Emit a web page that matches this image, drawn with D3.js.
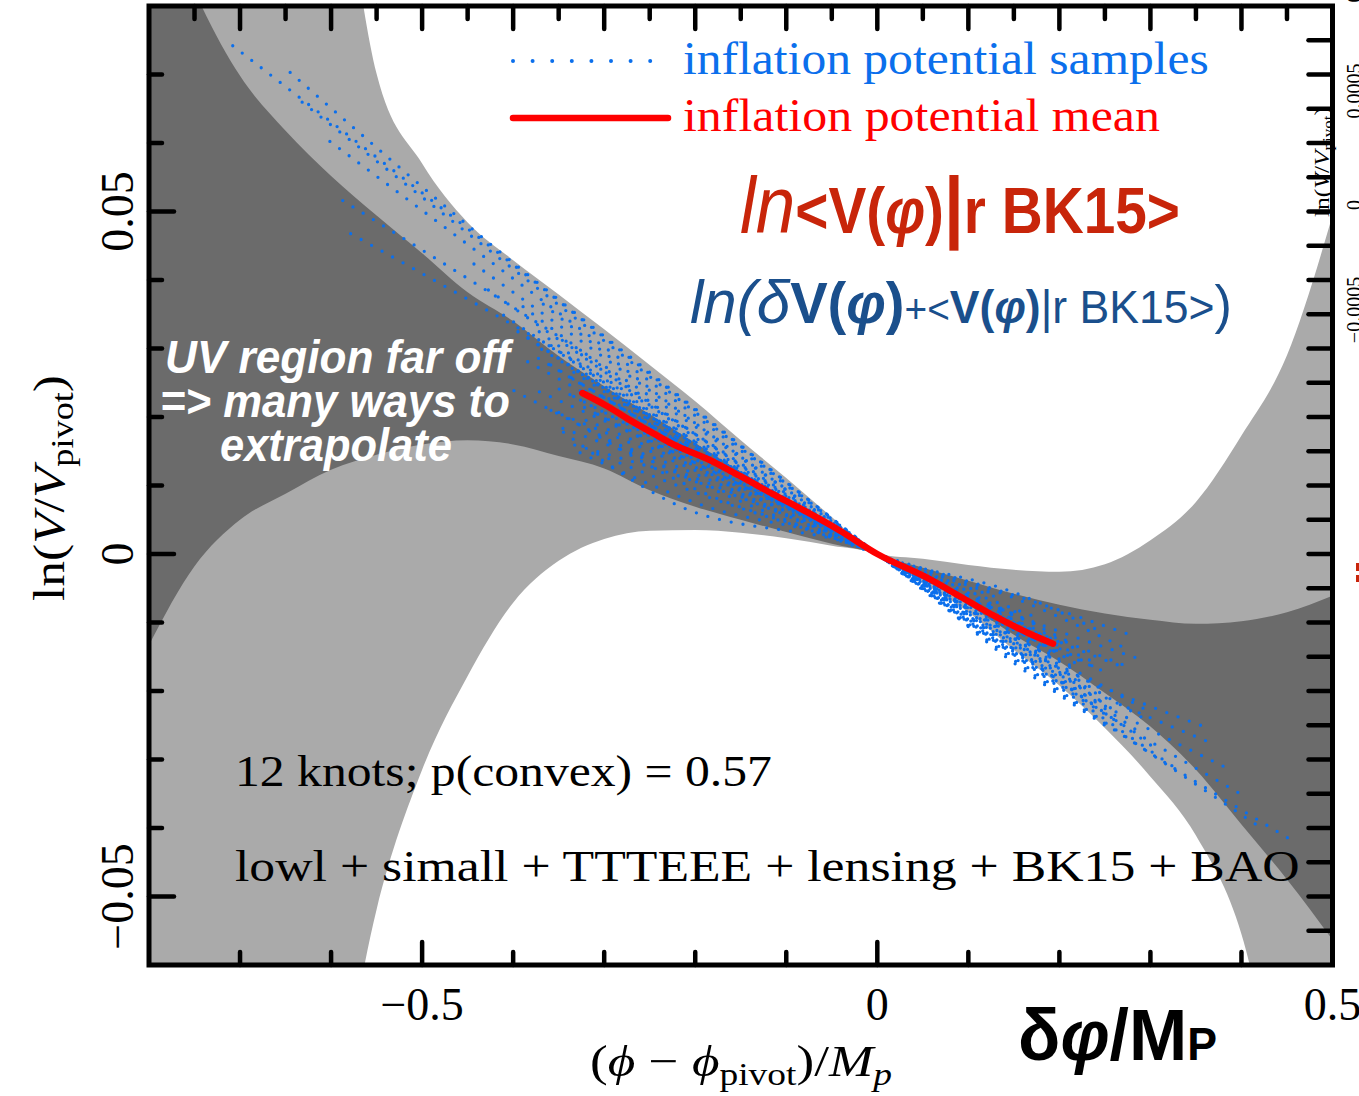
<!DOCTYPE html>
<html>
<head>
<meta charset="utf-8">
<script src="https://cdn.jsdelivr.net/npm/d3@7"></script>
<style>
  body { margin: 0; background: #fff; }
  svg { display: block; }
</style>
</head>
<body>
<svg id="chart" width="1359" height="1096"></svg>
<script>
// ---------------- data ----------------
// field offset grid for the credible bands
const bandPhi = [-0.80, -0.75, -0.70, -0.65, -0.60, -0.55, -0.50, -0.45, -0.40, -0.35, -0.30, -0.25, -0.20,
                 -0.15, -0.10, -0.05, 0.00, 0.05, 0.10, 0.15, 0.20, 0.25, 0.30, 0.35, 0.40, 0.45, 0.50];
// outer (light) band
const outerUpper = [0.23, 0.20, 0.17, 0.14, 0.11, 0.0701, 0.0570, 0.0484, 0.0429, 0.0379, 0.0328, 0.0276, 0.0223,
                    0.0166, 0.0111, 0.0054, 0, -0.0007, -0.0016, -0.0023, -0.0026, -0.0015, 0.0020, 0.0076, 0.0173, 0.0290, 0.0494];
const outerLower = [-0.20, -0.17, -0.14, -0.11, -0.085, -0.0519, -0.0315, -0.0178, -0.0071, -0.0010, 0.0022, 0.0034, 0.0035,
                    0.0031, 0.0023, 0.0012, 0, -0.0042, -0.0085, -0.0140, -0.0192, -0.0254, -0.0325, -0.0411, -0.0555, -0.085, -0.11];
// inner (dark) band
const innerUpper = [0.099, 0.0822, 0.0698, 0.0618, 0.0552, 0.0494, 0.0439, 0.0382, 0.0340, 0.0289, 0.0245, 0.0204, 0.0162,
                    0.0120, 0.0079, 0.0039, 0, -0.0020, -0.0039, -0.0058, -0.0074, -0.0087, -0.0096, -0.0102, -0.0098, -0.0085, -0.0061];
const innerLower = [-0.0133, -0.0018, 0.0050, 0.0088, 0.0123, 0.0145, 0.0160, 0.0166, 0.0160, 0.0143, 0.0125, 0.0093, 0.0069,
                    0.0050, 0.0032, 0.0015, 0, -0.0031, -0.0074, -0.0118, -0.0157, -0.0203, -0.0252, -0.0315, -0.0395, -0.0475, -0.0563];

// posterior mean of the potential
const meanPhi = [-0.324, -0.297, -0.275, -0.246, -0.224, -0.187, -0.151, -0.114, -0.077, -0.041, 0,
                 0.055, 0.091, 0.128, 0.165, 0.193];
const meanLnV = [0.0235, 0.0216, 0.0198, 0.0176, 0.0160, 0.0139, 0.0114, 0.0087, 0.0061, 0.0034, 0,
                 -0.0035, -0.0062, -0.0090, -0.0115, -0.0131];

// individual potential samples, knots as [phi, ln V/Vpivot]
const sampleCurves = [
  [[-0.708, 0.0742], [-0.45, 0.0475], [-0.2, 0.0210], [0, 0], [0.15, -0.0155], [0.454, -0.0417]],
  [[-0.651, 0.0710], [-0.45, 0.0480], [-0.2, 0.0212], [0, 0], [0.15, -0.0151], [0.424, -0.0402]],
  [[-0.634, 0.0662], [-0.2, 0.0207], [0, 0], [0.15, -0.0147], [0.404, -0.0354]],
  [[-0.610, 0.0611], [-0.2, 0.0202], [0, 0], [0.15, -0.0143], [0.388, -0.0315]],
  [[-0.592, 0.0520], [-0.2, 0.0186], [0, 0], [0.15, -0.0139], [0.371, -0.0278]],
  [[-0.579, 0.0468], [-0.2, 0.0175], [0, 0], [0.15, -0.0131], [0.355, -0.0250]],
  [[-0.45, 0.0430], [-0.2, 0.0191], [0, 0], [0.15, -0.0119], [0.30, -0.0231]],
  [[-0.43, 0.0388], [-0.2, 0.0175], [0, 0], [0.15, -0.0127], [0.29, -0.0238]],
  [[-0.42, 0.0357], [-0.2, 0.0164], [0, 0], [0.15, -0.0100], [0.27, -0.0165]],
  [[-0.40, 0.0329], [-0.2, 0.0159], [0, 0], [0.15, -0.0139], [0.31, -0.0288]],
  [[-0.39, 0.0362], [-0.2, 0.0175], [0, 0], [0.15, -0.0111], [0.25, -0.0172]],
  [[-0.38, 0.0292], [-0.2, 0.0149], [0, 0], [0.15, -0.0096], [0.28, -0.0167]],
  [[-0.37, 0.0368], [-0.2, 0.0191], [0, 0], [0.15, -0.0147], [0.33, -0.0315]],
  [[-0.36, 0.0248], [-0.2, 0.0138], [0, 0], [0.15, -0.0088], [0.29, -0.0154]],
  [[-0.39, 0.0285], [-0.2, 0.0146], [0, 0], [0.15, -0.0109], [0.22, -0.0161]],
  [[-0.385, 0.0317], [-0.2, 0.0154], [0, 0], [0.15, -0.0119], [0.20, -0.0159]],
  [[-0.38, 0.0242], [-0.2, 0.0133], [0, 0], [0.15, -0.0103], [0.24, -0.0159]],
  [[-0.375, 0.0328], [-0.2, 0.0164], [0, 0], [0.15, -0.0131], [0.26, -0.0228]],
  [[-0.37, 0.0216], [-0.2, 0.0122], [0, 0], [0.15, -0.0090], [0.18, -0.0105]],
  [[-0.365, 0.0281], [-0.2, 0.0149], [0, 0], [0.15, -0.0123], [0.23, -0.0195]],
  [[-0.36, 0.0306], [-0.2, 0.0159], [0, 0], [0.15, -0.0100], [0.21, -0.0134]],
  [[-0.355, 0.0188], [-0.2, 0.0111], [0, 0], [0.15, -0.0080], [0.17, -0.0090]],
  [[-0.35, 0.0316], [-0.2, 0.0170], [0, 0], [0.15, -0.0143], [0.27, -0.0250]],
  [[-0.345, 0.0238], [-0.2, 0.0138], [0, 0], [0.15, -0.0111], [0.20, -0.0149]],
  [[-0.34, 0.0271], [-0.2, 0.0154], [0, 0], [0.15, -0.0084], [0.16, -0.0085]],
  [[-0.335, 0.0160], [-0.2, 0.0106], [0, 0], [0.15, -0.0096], [0.19, -0.0126]],
  [[-0.33, 0.0245], [-0.2, 0.0143], [0, 0], [0.15, -0.0127], [0.25, -0.0219]],
  [[-0.325, 0.0198], [-0.2, 0.0127], [0, 0], [0.14, -0.0067]],
  [[-0.32, 0.0263], [-0.2, 0.0159], [0, 0], [0.15, -0.0115], [0.22, -0.0169]],
  [[-0.315, 0.0150], [-0.2, 0.0090], [0, 0], [0.15, -0.0088], [0.21, -0.0128]],
  [[-0.31, 0.0206], [-0.2, 0.0133], [0, 0], [0.15, -0.0135], [0.29, -0.0262]],
  [[-0.305, 0.0170], [-0.2, 0.0117], [0, 0], [0.13, -0.0059]],
  [[-0.30, 0.0231], [-0.2, 0.0149], [0, 0], [0.15, -0.0103], [0.24, -0.0166]],
  [[-0.40, 0.0239], [-0.2, 0.0106], [0, 0], [0.15, -0.0060], [0.28, -0.0119]],
  [[-0.352, 0.0185], [-0.227, 0.0076], [0, 0], [0.15, -0.0123], [0.25, -0.0200]],
  [[-0.33, 0.0150], [-0.2, 0.0075], [0, 0], [0.15, -0.0139], [0.24, -0.0222]],
  [[-0.36, 0.0215], [-0.2, 0.0095], [0, 0], [0.15, -0.0109], [0.20, -0.0146]],
  [[-0.34, 0.0260], [-0.2, 0.0150], [0, 0], [0.15, -0.0064], [0.27, -0.0136]],
  [[-0.37, 0.0300], [-0.2, 0.0160], [0, 0], [0.15, -0.0056], [0.25, -0.0116]],
  [[-0.33, 0.0220], [-0.2, 0.0128], [0, 0], [0.15, -0.0159], [0.25, -0.0250]]
];

// tick labels
const xTickValues = [-0.5, 0, 0.5];
const xTickLabels = ["\u22120.5", "0", "0.5"];
const yTickValues = [-0.05, 0, 0.05];
const yTickLabels = ["\u22120.05", "0", "0.05"];
// tick labels of the neighbouring panel's axis
const sideTickOffsets = [-20, 91, 205, 310];
const sideTickLabels = ["0.001", "0.0005", "0", "\u22120.0005"];

// ---------------- drawing ----------------
const svg = d3.select("#chart");
const frame = { left: 149, right: 1332.5, top: 6, bottom: 965 };
const x = d3.scaleLinear().domain([-0.8, 0.5]).range([frame.left, frame.right]);
const y = d3.scaleLinear().domain([-0.06, 0.08]).range([frame.bottom, frame.top]);

const SERIF = "'Liberation Serif', 'DejaVu Serif', serif";
const SANS = "'Liberation Sans', Arial, sans-serif";
const BLUE = "#0b6fec";

svg.append("defs").append("clipPath").attr("id", "plotClip")
  .append("rect")
  .attr("x", frame.left).attr("y", frame.top)
  .attr("width", frame.right - frame.left).attr("height", frame.bottom - frame.top);

const plot = svg.append("g").attr("clip-path", "url(#plotClip)");

const bandRows = bandPhi.map((p, i) => ({
  phi: p, oHi: outerUpper[i], oLo: outerLower[i], iHi: innerUpper[i], iLo: innerLower[i]
}));

const outerArea = d3.area().curve(d3.curveMonotoneX)
  .x(d => x(d.phi)).y0(d => y(d.oLo)).y1(d => y(d.oHi));
const innerArea = d3.area().curve(d3.curveMonotoneX)
  .x(d => x(d.phi)).y0(d => y(d.iLo)).y1(d => y(d.iHi));

plot.append("path").datum(bandRows).attr("d", outerArea).attr("fill", "#aaaaaa");
plot.append("path").datum(bandRows).attr("d", innerArea).attr("fill", "#6b6b6b");

// dotted sample curves
const sampleLine = d3.line().curve(d3.curveMonotoneX)
  .x(d => x(d[0])).y(d => y(d[1]));
plot.append("g").selectAll("path").data(sampleCurves).join("path")
  .attr("d", sampleLine)
  .attr("fill", "none")
  .attr("stroke", BLUE)
  .attr("stroke-width", 3.3)
  .attr("stroke-linecap", "round")
  .attr("stroke-dasharray", "0 12")
  .attr("stroke-dashoffset", (d, i) => (i * 4.7) % 12);

// mean potential
const meanLine = d3.line().curve(d3.curveMonotoneX)
  .x(d => x(d[0])).y(d => y(d[1]));
plot.append("path").datum(meanPhi.map((p, i) => [p, meanLnV[i]]))
  .attr("d", meanLine)
  .attr("fill", "none")
  .attr("stroke", "#ff0000")
  .attr("stroke-width", 6.5)
  .attr("stroke-linecap", "round")
  .attr("stroke-linejoin", "round");

// neighbouring panel fragments at the right margin
svg.append("rect").attr("x", 1356).attr("y", 563).attr("width", 4).attr("height", 8).attr("fill", "#c8250a");
svg.append("rect").attr("x", 1356).attr("y", 575).attr("width", 4).attr("height", 7).attr("fill", "#c8250a");
sideTickOffsets.forEach((v, i) => {
  svg.append("text")
    .attr("transform", `translate(1361,${v}) rotate(-90)`)
    .attr("text-anchor", "middle")
    .attr("font-family", SERIF).attr("font-size", 20)
    .text(sideTickLabels[i]);
});
{
  const t = svg.append("text")
    .attr("text-anchor", "middle")
    .attr("font-family", SERIF).attr("font-size", 21);
  t.append("tspan").text("ln(");
  t.append("tspan").attr("font-style", "italic").text("V");
  t.append("tspan").text("/");
  t.append("tspan").attr("font-style", "italic").text("V");
  t.append("tspan").attr("font-size", 14).attr("dy", 4).text("pivot");
  t.append("tspan").attr("dy", -4).text(")");
  const w = t.node().getComputedTextLength();
  t.attr("transform", `translate(1329,162) rotate(-90) scale(${110 / w},1)`);
}

// frame
svg.append("rect")
  .attr("x", frame.left).attr("y", frame.top)
  .attr("width", frame.right - frame.left).attr("height", frame.bottom - frame.top)
  .attr("fill", "none").attr("stroke", "#000").attr("stroke-width", 5);

// ticks
const tickG = svg.append("g").attr("stroke", "#000").attr("stroke-width", 4.5).attr("stroke-linecap", "round");
const near = (v, step) => Math.abs(v / step - Math.round(v / step)) < 1e-6;
const inside = v => v > -0.8 + 1e-9 && v < 0.5 - 1e-9;

x.ticks(13).filter(inside).forEach(v => {          // bottom, every 0.1
  const len = near(v, 0.5) ? 23 : 13;
  tickG.append("line").attr("x1", x(v)).attr("x2", x(v)).attr("y1", frame.bottom).attr("y2", frame.bottom - len);
});
x.ticks(26).filter(inside).forEach(v => {          // top, every 0.05
  const len = near(v, 0.1) ? 23 : 13;
  tickG.append("line").attr("x1", x(v)).attr("x2", x(v)).attr("y1", frame.top).attr("y2", frame.top + len);
});
y.ticks(14).filter(v => v > -0.06 + 1e-9 && v < 0.08 - 1e-9).forEach(v => {   // left, every 0.01
  const len = near(v, 0.05) ? 25 : 13;
  tickG.append("line").attr("x1", frame.left).attr("x2", frame.left + len).attr("y1", y(v)).attr("y2", y(v));
});
y.ticks(28).filter(v => v > -0.06 + 1e-9 && v < 0.08 - 1e-9).forEach(v => {   // right, every 0.005
  tickG.append("line").attr("x1", frame.right).attr("x2", frame.right - 24).attr("y1", y(v)).attr("y2", y(v));
});

// tick labels
xTickValues.forEach((v, i) => {
  svg.append("text").attr("x", x(v)).attr("y", 1020)
    .attr("text-anchor", "middle").attr("font-family", SERIF).attr("font-size", 46)
    .text(xTickLabels[i]);
});
yTickValues.forEach((v, i) => {
  svg.append("text").attr("transform", `translate(133,${y(v)}) rotate(-90)`)
    .attr("text-anchor", "middle").attr("font-family", SERIF).attr("font-size", 46)
    .text(yTickLabels[i]);
});

// helper: stretch a text horizontally to a given width
function fit(t, x0, y0, width, rotate) {
  const w = t.node().getComputedTextLength();
  const s = width / w;
  t.attr("transform", `translate(${x0},${y0})${rotate ? " rotate(-90)" : ""} scale(${s},1)`);
}

// axis labels
{
  const t = svg.append("text").attr("text-anchor", "middle")
    .attr("font-family", SERIF).attr("font-size", 44);
  t.append("tspan").text("ln(");
  t.append("tspan").attr("font-style", "italic").text("V");
  t.append("tspan").text("/");
  t.append("tspan").attr("font-style", "italic").text("V");
  t.append("tspan").attr("font-size", 31).attr("dy", 9).text("pivot");
  t.append("tspan").attr("dy", -9).text(")");
  fit(t, 64, 488, 226, true);
}
{
  const t = svg.append("text").attr("text-anchor", "middle")
    .attr("font-family", SERIF).attr("font-size", 44);
  t.append("tspan").text("(");
  t.append("tspan").attr("font-style", "italic").text("\u03D5");
  t.append("tspan").text(" \u2212 ");
  t.append("tspan").attr("font-style", "italic").text("\u03D5");
  t.append("tspan").attr("font-size", 31).attr("dy", 9).text("pivot");
  t.append("tspan").attr("dy", -9).text(")/");
  t.append("tspan").attr("font-style", "italic").text("M");
  t.append("tspan").attr("font-style", "italic").attr("font-size", 31).attr("dy", 9).text("p");
  fit(t, 741, 1076, 302, false);
}

// legend
svg.append("line").attr("x1", 513).attr("x2", 651).attr("y1", 61).attr("y2", 61)
  .attr("stroke", BLUE).attr("stroke-width", 4).attr("stroke-linecap", "round")
  .attr("stroke-dasharray", "0 19.6");
svg.append("line").attr("x1", 513).attr("x2", 668).attr("y1", 118).attr("y2", 118)
  .attr("stroke", "#ff0000").attr("stroke-width", 6.5).attr("stroke-linecap", "round");
fit(svg.append("text").attr("font-family", SERIF).attr("font-size", 46).attr("fill", BLUE)
  .text("inflation potential samples"), 683, 74, 526, false);
fit(svg.append("text").attr("font-family", SERIF).attr("font-size", 46).attr("fill", "#ff0000")
  .text("inflation potential mean"), 683, 131, 477, false);

// run notes
fit(svg.append("text").attr("font-family", SERIF).attr("font-size", 44).attr("fill", "#000")
  .text("12 knots; p(convex) = 0.57"), 235, 786, 537, false);
fit(svg.append("text").attr("font-family", SERIF).attr("font-size", 44).attr("fill", "#000")
  .text("lowl + simall + TTTEEE + lensing + BK15 + BAO"), 235, 881, 1065, false);

// UV note
[["UV region far off", 165, 373, 345], ["=> many ways to", 160, 417, 350], ["extrapolate", 220, 461, 232]]
  .forEach(([s, x0, y0, w]) => {
    fit(svg.append("text").attr("font-family", SANS).attr("font-size", 46)
      .attr("font-weight", "bold").attr("font-style", "italic").attr("fill", "#fff").text(s), x0, y0, w, false);
  });

// mean-potential formula
{
  const t = svg.append("text").attr("font-family", SANS).attr("fill", "#c8250a").attr("font-size", 64);
  t.append("tspan").attr("font-style", "italic").attr("font-size", 80).text("ln");
  t.append("tspan").attr("font-weight", "bold").text("<V(");
  t.append("tspan").attr("font-weight", "bold").attr("font-style", "italic").text("\u03C6");
  t.append("tspan").attr("font-weight", "bold").text(")");
  t.append("tspan").attr("font-weight", "bold").attr("font-size", 80).text("|");
  t.append("tspan").attr("font-weight", "bold").text("r BK15>");
  fit(t, 740, 233, 440, false);
}
// perturbed-potential formula
{
  const t = svg.append("text").attr("font-family", SANS).attr("fill", "#1a4f8c").attr("font-size", 46);
  t.append("tspan").attr("font-style", "italic").attr("font-size", 62).text("ln(\u03B4");
  t.append("tspan").attr("font-weight", "bold").attr("font-size", 58).text("V(");
  t.append("tspan").attr("font-weight", "bold").attr("font-style", "italic").attr("font-size", 58).text("\u03C6");
  t.append("tspan").attr("font-weight", "bold").attr("font-size", 58).text(")");
  t.append("tspan").attr("font-size", 40).text("+<");
  t.append("tspan").attr("font-weight", "bold").text("V(");
  t.append("tspan").attr("font-weight", "bold").attr("font-style", "italic").text("\u03C6");
  t.append("tspan").attr("font-weight", "bold").text(")");
  t.append("tspan").text("|r BK15>");
  t.append("tspan").attr("font-size", 54).text(")");
  fit(t, 690, 323, 542, false);
}
// field displacement label
{
  const t = svg.append("text").attr("font-family", SANS).attr("fill", "#000")
    .attr("font-weight", "bold").attr("font-size", 72);
  t.append("tspan").text("\u03B4");
  t.append("tspan").attr("font-style", "italic").text("\u03C6");
  t.append("tspan").text("/M");
  t.append("tspan").attr("font-size", 46).text("P");
  fit(t, 1018, 1060, 199, false);
}
</script>
</body>
</html>
